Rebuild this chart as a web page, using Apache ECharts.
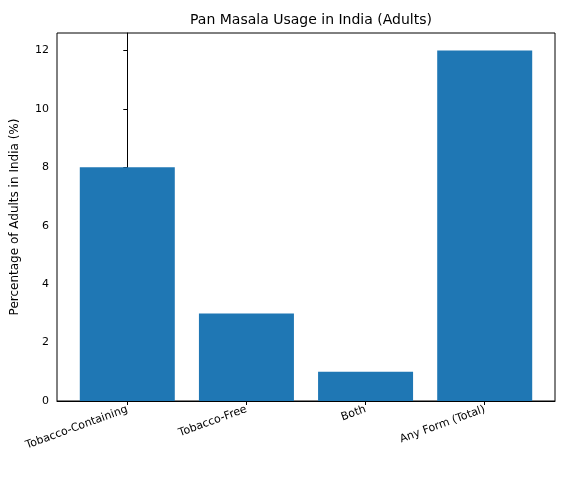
<!DOCTYPE html>
<html>
<head>
<meta charset="utf-8">
<script src="https://cdn.jsdelivr.net/npm/echarts@6/dist/echarts.min.js"></script>
<style>html,body{margin:0;padding:0;background:#fff}#chart{width:562px;height:481px}</style>
</head>
<body>
<div id="chart"></div>
<script>
const categories = ["Tobacco-Containing", "Tobacco-Free", "Both", "Any Form (Total)"];
const usage = [8, 3, 1, 12];
const yTicks = [0, 2, 4, 6, 8, 10, 12];

const chart = echarts.init(document.getElementById("chart"));
const font = "DejaVu Sans";

chart.setOption({
  animation: false,
  title: {
    text: "Pan Masala Usage in India (Adults)",
    left: 306, top: 8, textAlign: "center",
    textStyle: { fontFamily: font, fontSize: 14, fontWeight: "normal", color: "#000" }
  },
  grid: {
    left: 57, right: 7, top: 33, bottom: 80,
    show: true, borderColor: "#000", borderWidth: 1
  },
  xAxis: {
    type: "value", min: -0.59, max: 3.59,
    splitLine: { show: false },
    axisLine: { show: true, lineStyle: { color: "#000" } },
    axisTick: { show: true, customValues: [0, 1, 2, 3], length: 4, lineStyle: { color: "#000" } },
    axisLabel: {
      customValues: [0, 1, 2, 3], rotate: 20, margin: 8,
      fontFamily: font, fontSize: 11, color: "#000",
      formatter: v => categories[Math.round(v)]
    }
  },
  yAxis: {
    type: "value", min: 0, max: 12.6,
    name: "Percentage of Adults in India (%)", nameLocation: "middle", nameGap: 36,
    nameTextStyle: { fontFamily: font, fontSize: 12, color: "#000" },
    splitLine: { show: false },
    axisLine: { show: true, lineStyle: { color: "#000" } },
    axisTick: { show: true, customValues: yTicks, length: 4, lineStyle: { color: "#000" } },
    axisLabel: { customValues: yTicks, fontFamily: font, fontSize: 11, color: "#000" }
  },
  series: [{
    type: "bar",
    data: usage.map((v, i) => [i, v]),
    barWidth: 95,
    itemStyle: { color: "#1f77b4" }
  }]
});
</script>
</body>
</html>
